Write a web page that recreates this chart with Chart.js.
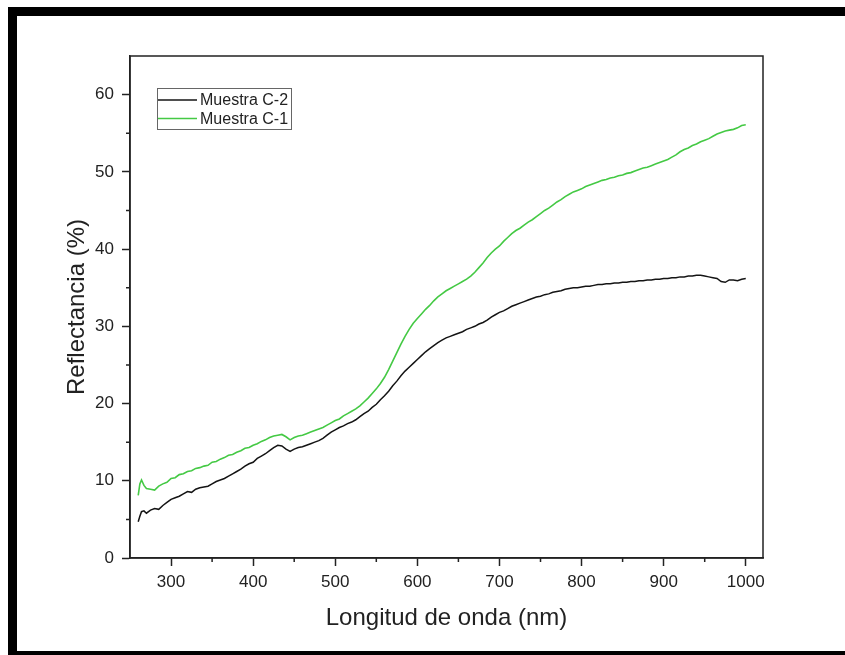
<!DOCTYPE html>
<html>
<head>
<meta charset="utf-8">
<script src="https://cdn.jsdelivr.net/npm/chart.js@4.4.1/dist/chart.umd.min.js"></script>
<style>
    html, body { margin: 0; padding: 0; background: #fff; overflow: hidden; }
    #wrap { position: relative; width: 845px; height: 655px; }
    #frame {
        position: absolute; left: 8px; top: 7px; width: 900px; height: 635px;
        border-left: 9px solid #000; border-top: 9px solid #000; border-bottom: 9px solid #000;
        pointer-events: none;
    }
</style>
</head>
<body>
<div id="wrap">
    <canvas id="reflectanceChart" width="845" height="655"></canvas>
    <div id="frame"></div>
</div>
<script>
// wavelength (nm)
const wavelengths = [
    260, 262, 264, 267, 270, 275, 280, 285, 290, 295,
    300, 305, 310, 315, 320, 325, 330, 335, 340, 345,
    350, 355, 360, 365, 370, 375, 380, 385, 390, 395,
    400, 405, 410, 415, 420, 425, 430, 435, 440, 445,
    450, 455, 460, 465, 470, 475, 480, 485, 490, 495,
    500, 505, 510, 515, 520, 525, 530, 535, 540, 545,
    550, 555, 560, 565, 570, 575, 580, 585, 590, 595,
    600, 605, 610, 615, 620, 625, 630, 635, 640, 645,
    650, 655, 660, 665, 670, 675, 680, 685, 690, 695,
    700, 705, 710, 715, 720, 725, 730, 735, 740, 745,
    750, 755, 760, 765, 770, 775, 780, 785, 790, 795,
    800, 805, 810, 815, 820, 825, 830, 835, 840, 845,
    850, 855, 860, 865, 870, 875, 880, 885, 890, 895,
    900, 905, 910, 915, 920, 925, 930, 935, 940, 945,
    950, 955, 960, 965, 970, 975, 980, 985, 990, 995,
    1000
];

// Muestra C-2 (black)
const muestraC2 = [
    4.7, 5.4, 6.0, 6.1, 5.8, 6.2, 6.4, 6.3, 6.8, 7.2,
    7.6, 7.8, 8.0, 8.3, 8.6, 8.5, 8.9, 9.1, 9.2, 9.3,
    9.6, 9.9, 10.1, 10.3, 10.6, 10.9, 11.2, 11.5, 11.9, 12.2,
    12.4, 12.9, 13.2, 13.5, 13.9, 14.3, 14.6, 14.5, 14.1, 13.8,
    14.1, 14.3, 14.4, 14.6, 14.8, 15.0, 15.2, 15.5, 15.9, 16.3,
    16.6, 16.9, 17.1, 17.4, 17.6, 17.9, 18.3, 18.7, 19.0, 19.5,
    19.9, 20.5, 21.0, 21.6, 22.3, 22.9, 23.6, 24.2, 24.7, 25.2,
    25.7, 26.2, 26.7, 27.1, 27.5, 27.9, 28.2, 28.5, 28.7, 28.9,
    29.1, 29.3, 29.6, 29.8, 30.0, 30.3, 30.5, 30.8, 31.2, 31.5,
    31.8, 32.0, 32.3, 32.6, 32.8, 33.0, 33.2, 33.4, 33.6, 33.8,
    33.9, 34.1, 34.2, 34.4, 34.5, 34.6, 34.8, 34.9, 35.0, 35.0,
    35.1, 35.2, 35.2, 35.3, 35.4, 35.4, 35.5, 35.5, 35.6, 35.6,
    35.7, 35.7, 35.8, 35.8, 35.9, 35.9, 36.0, 36.0, 36.1, 36.1,
    36.2, 36.2, 36.3, 36.3, 36.4, 36.4, 36.5, 36.5, 36.6, 36.6,
    36.5, 36.4, 36.3, 36.2, 35.8, 35.7, 36.0, 36.0, 35.9, 36.1,
    36.2
];

// Muestra C-1 (green)
const muestraC1 = [
    8.1, 9.6, 10.1, 9.4, 9.0, 8.9, 8.8, 9.3, 9.6, 9.8,
    10.3, 10.4, 10.8, 10.9, 11.2, 11.3, 11.6, 11.7, 11.9, 12.0,
    12.4, 12.5, 12.8, 13.0, 13.3, 13.4, 13.7, 13.9, 14.2, 14.3,
    14.6, 14.8, 15.1, 15.3, 15.6, 15.8, 15.9, 16.0, 15.7, 15.3,
    15.6, 15.8, 15.9, 16.1, 16.3, 16.5, 16.7, 16.9, 17.2, 17.5,
    17.8, 18.0, 18.4, 18.7, 19.0, 19.3, 19.7, 20.2, 20.7, 21.3,
    21.9, 22.6, 23.4, 24.4, 25.5, 26.6, 27.7, 28.7, 29.6, 30.4,
    31.0, 31.6, 32.2, 32.7, 33.3, 33.8, 34.2, 34.6, 34.9, 35.2,
    35.5, 35.8, 36.1, 36.5, 37.0, 37.6, 38.2, 38.9, 39.5, 40.0,
    40.4, 41.0, 41.5, 42.0, 42.4, 42.7, 43.1, 43.5, 43.8, 44.2,
    44.6, 45.0, 45.3, 45.7, 46.1, 46.4, 46.8, 47.1, 47.4, 47.6,
    47.8, 48.1, 48.3, 48.5, 48.7, 48.9, 49.0, 49.2, 49.3, 49.5,
    49.6, 49.8, 49.9, 50.1, 50.3, 50.5, 50.6, 50.8, 51.0, 51.2,
    51.4, 51.6, 51.9, 52.2, 52.6, 52.9, 53.1, 53.4, 53.6, 53.9,
    54.1, 54.3, 54.6, 54.9, 55.1, 55.3, 55.4, 55.5, 55.7, 56.0,
    56.1
];

const xTicks = [300, 400, 500, 600, 700, 800, 900, 1000];
const xMinorTicks = [350, 450, 550, 650, 750, 850, 950];
const yTicks = [0, 10, 20, 30, 40, 50, 60];
const yMinorTicks = [5, 15, 25, 35, 45, 55];

const fontFamily = "'Liberation Sans', Arial, sans-serif";

function toPoints(values) {
    return wavelengths.map((w, i) => ({ x: w, y: values[i] }));
}

// box around the plot, minor ticks and the legend
const originStyle = {
    id: 'originStyle',
    afterDraw(chart) {
        const ctx = chart.ctx;
        const area = chart.chartArea;
        const x = chart.scales.x;
        const y = chart.scales.y;
        ctx.save();
        ctx.strokeStyle = '#222';
        ctx.lineWidth = 1.5;
        ctx.strokeRect(area.left, area.top, area.right - area.left, area.bottom - area.top);

        ctx.beginPath();
        xMinorTicks.forEach(v => {
            const px = x.getPixelForValue(v);
            ctx.moveTo(px, area.bottom);
            ctx.lineTo(px, area.bottom + 4);
        });
        yMinorTicks.forEach(v => {
            const py = y.getPixelForValue(v);
            ctx.moveTo(area.left, py);
            ctx.lineTo(area.left - 4, py);
        });
        ctx.stroke();

        // legend
        const lx = 157, ly = 88;
        ctx.lineWidth = 1;
        ctx.strokeStyle = '#666';
        ctx.strokeRect(lx + 0.5, ly + 0.5, 134, 41);
        ctx.font = '16px ' + fontFamily;
        ctx.textBaseline = 'middle';
        ctx.fillStyle = '#222';
        chart.data.datasets.forEach((ds, i) => {
            const rowY = ly + 12 + i * 18.5;
            ctx.strokeStyle = ds.borderColor;
            ctx.lineWidth = 1.5;
            ctx.beginPath();
            ctx.moveTo(lx + 1, rowY);
            ctx.lineTo(lx + 40, rowY);
            ctx.stroke();
            ctx.fillText(ds.label, lx + 43, rowY + 1);
        });
        ctx.restore();
    }
};

const ctx = document.getElementById('reflectanceChart').getContext('2d');
const reflectanceChart = new Chart(ctx, {
    type: 'line',
    data: {
        datasets: [{
            label: 'Muestra C-2',
            data: toPoints(muestraC2),
            borderColor: '#141414',
            borderWidth: 1.5,
            pointRadius: 0,
            tension: 0
        }, {
            label: 'Muestra C-1',
            data: toPoints(muestraC1),
            borderColor: '#44c944',
            borderWidth: 1.6,
            pointRadius: 0,
            tension: 0
        }]
    },
    options: {
        responsive: false,
        animation: false,
        layout: { padding: { left: 60, top: 56, right: 82, bottom: 18 } },
        plugins: {
            legend: { display: false },
            tooltip: { enabled: false }
        },
        scales: {
            x: {
                type: 'linear',
                min: 250,
                max: 1021,
                afterBuildTicks: scale => { scale.ticks = xTicks.map(v => ({ value: v })); },
                afterFit: scale => { scale.height = 79; },
                grid: { drawOnChartArea: false, tickLength: 8, tickWidth: 1.5, tickColor: '#222' },
                border: { display: true, color: '#222', width: 1.5 },
                ticks: {
                    color: '#222', padding: 6, maxRotation: 0,
                    font: { family: fontFamily, size: 17 },
                    callback: value => String(value)
                },
                title: {
                    display: true,
                    text: 'Longitud de onda (nm)',
                    color: '#222',
                    padding: 4,
                    font: { family: fontFamily, size: 24 }
                }
            },
            y: {
                type: 'linear',
                min: 0,
                max: 65,
                afterBuildTicks: scale => { scale.ticks = yTicks.map(v => ({ value: v })); },
                afterFit: scale => { scale.width = 70; },
                grid: { drawOnChartArea: false, tickLength: 8, tickWidth: 1.5, tickColor: '#222' },
                border: { display: true, color: '#222', width: 1.5 },
                ticks: {
                    color: '#222', padding: 8,
                    font: { family: fontFamily, size: 17 },
                    callback: value => String(value)
                },
                title: {
                    display: true,
                    text: 'Reflectancia (%)',
                    color: '#222',
                    padding: 3,
                    font: { family: fontFamily, size: 24 }
                }
            }
        }
    },
    plugins: [originStyle]
});
</script>
</body>
</html>
